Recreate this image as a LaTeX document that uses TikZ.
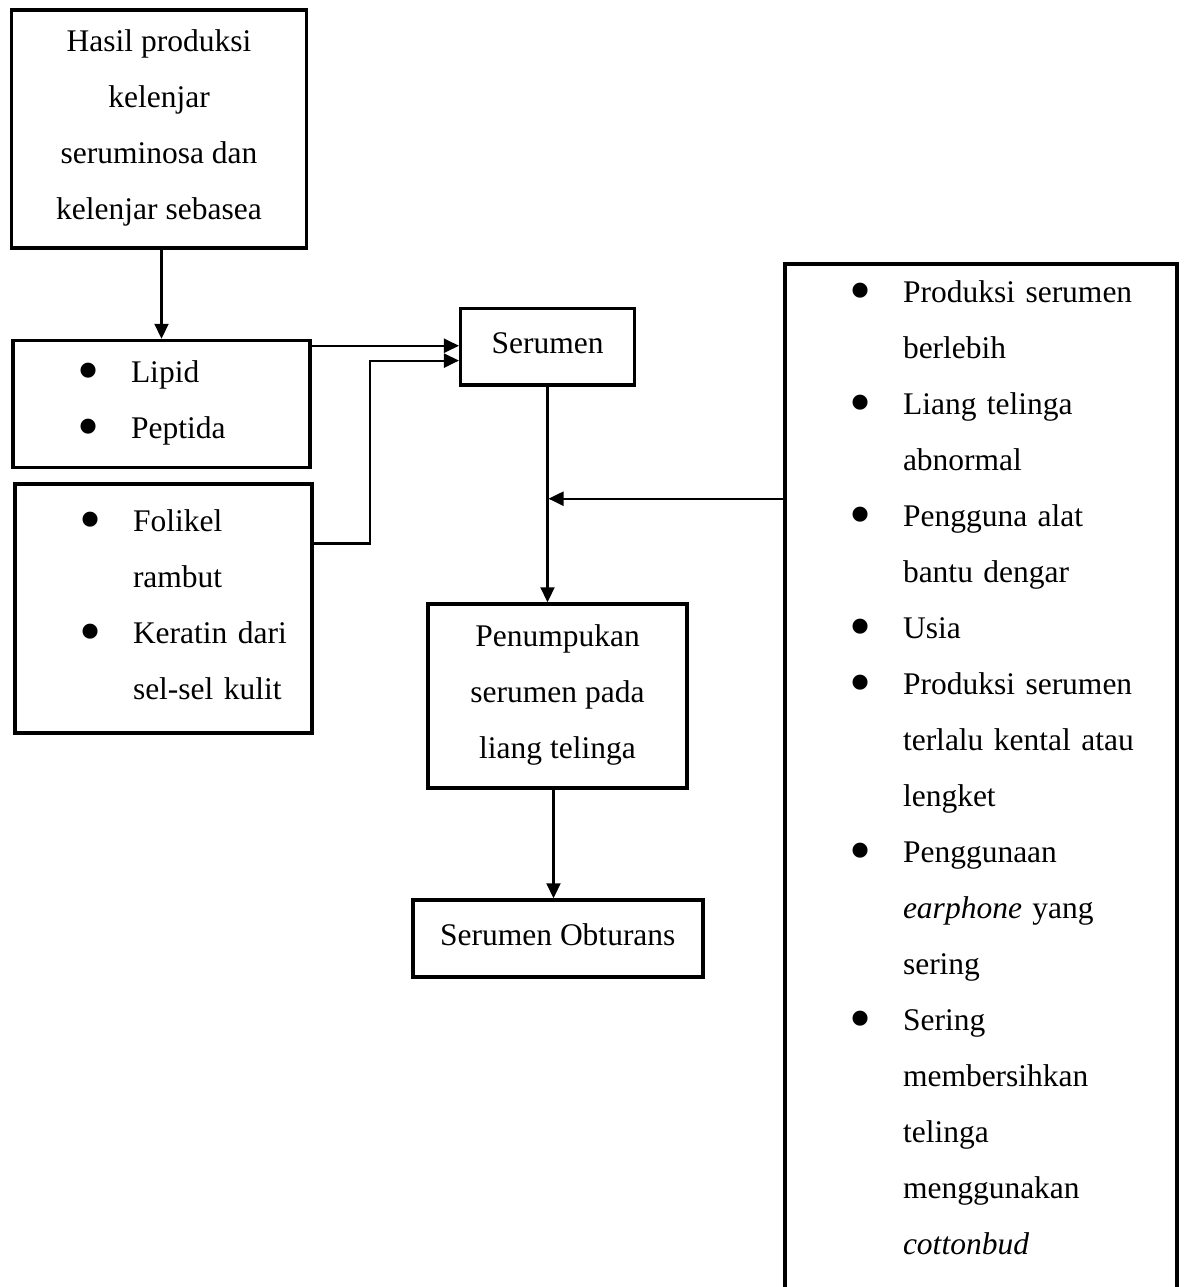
\documentclass[tikz,border=0pt]{standalone}
\usepackage{fontspec}
\setmainfont{Liberation Serif}
\usetikzlibrary{arrows.meta,positioning}

\newcommand{\sr}{\rule[-8pt]{0pt}{27pt}}
\newcommand{\itm}{\sr\llap{\raisebox{-9pt}{\scalebox{2}{\textbullet}}\hspace{31pt}}}
\newcommand{\daftar}[1]{{\leftskip=118pt\rightskip=0pt plus 1fil\parfillskip=0pt plus 1fil #1\par}}

\begin{document}
\begin{tikzpicture}[x=1pt,y=-1pt,>={Triangle[length=15pt,width=14pt]},node distance=13pt]
    \tikzstyle{box}=[draw,line width=3.5pt,inner sep=0pt,font=\fontsize{31.5}{56}\selectfont]
    \tikzstyle{mid box}=[box,align=center]
    \tikzstyle{list box}=[box,align=left]
    \tikzstyle{arr}=[->,line width=2.2pt]

    \useasboundingbox (0,0) rectangle (1185,1287);

    % Draw the left column
    \node[mid box,minimum width=295pt,minimum height=238pt] (hasil) at (159,129)
        {\sr Hasil produksi\\ kelenjar\\ seruminosa dan\\ kelenjar sebasea\sr};
    \node[list box,text width=297pt,minimum height=127pt,below=89pt of hasil,xshift=2.5pt] (lipid)
        {\daftar{\itm Lipid\\ \itm Peptida\sr}};
    \node[list box,text width=297pt,minimum height=249pt,below=of lipid,xshift=2pt] (folikel)
        {\daftar{\itm Folikel\\ \sr rambut\\ \itm Keratin dari\\ \sr sel-sel kulit\sr}};

    % Draw the middle column
    \node[mid box,minimum width=173.6pt,minimum height=76.7pt] (serumen) at (547.5,346.6) {\sr Serumen\sr};
    \node[mid box,minimum width=259pt,minimum height=184pt] (tumpuk) at (557.5,696)
        {\sr Penumpukan\\ serumen pada\\ liang telinga\sr};
    \node[mid box,minimum width=290pt,minimum height=77pt] (obturans) at (557.8,938.5) {\sr Serumen Obturans\sr};

    % Draw the factor list (runs off the page)
    \node[list box,draw=none,outer sep=0pt,text width=392pt,anchor=north,inner ysep=17pt] (faktor) at (981,264)
        {\daftar{%
        \itm Produksi serumen\\ \sr berlebih\\
        \itm Liang telinga\\ \sr abnormal\\
        \itm Pengguna alat\\ \sr bantu dengar\\
        \itm Usia\\
        \itm Produksi serumen\\ \sr terlalu kental atau\\ \sr lengket\\
        \itm Penggunaan\\ \sr\emph{earphone} yang\\ \sr sering\\
        \itm Sering\\ \sr membersihkan\\ \sr telinga\\ \sr menggunakan\\ \sr\emph{cottonbud}\sr}};
    \coordinate (bottom) at (0,1287);
    \draw[line width=3.5pt] (faktor.north west |- bottom) -- (faktor.north west)
        -- (faktor.north east) -- (faktor.north east |- bottom);

    % Connect the boxes
    \draw[arr] (hasil.south -| lipid.north) -- (lipid.north);
    \draw[arr] ([yshift=-7pt]lipid.north east) -- ([yshift=-7pt]lipid.north east -| serumen.west);
    \draw[arr] ([yshift=65pt]folikel.east) -- ++(56,0) |- ([yshift=-14pt]serumen.west);
    \draw[arr] (serumen.south) -- (serumen.south |- tumpuk.north);
    \draw[arr] ([xshift=-4pt]tumpuk.south) -- ([xshift=-4pt]tumpuk.south |- obturans.north);
    \path (serumen.south) ++(0,112) coordinate (simpang);
    \draw[arr,shorten >=1pt] (faktor.west |- simpang) -- (simpang);
\end{tikzpicture}
\end{document}
